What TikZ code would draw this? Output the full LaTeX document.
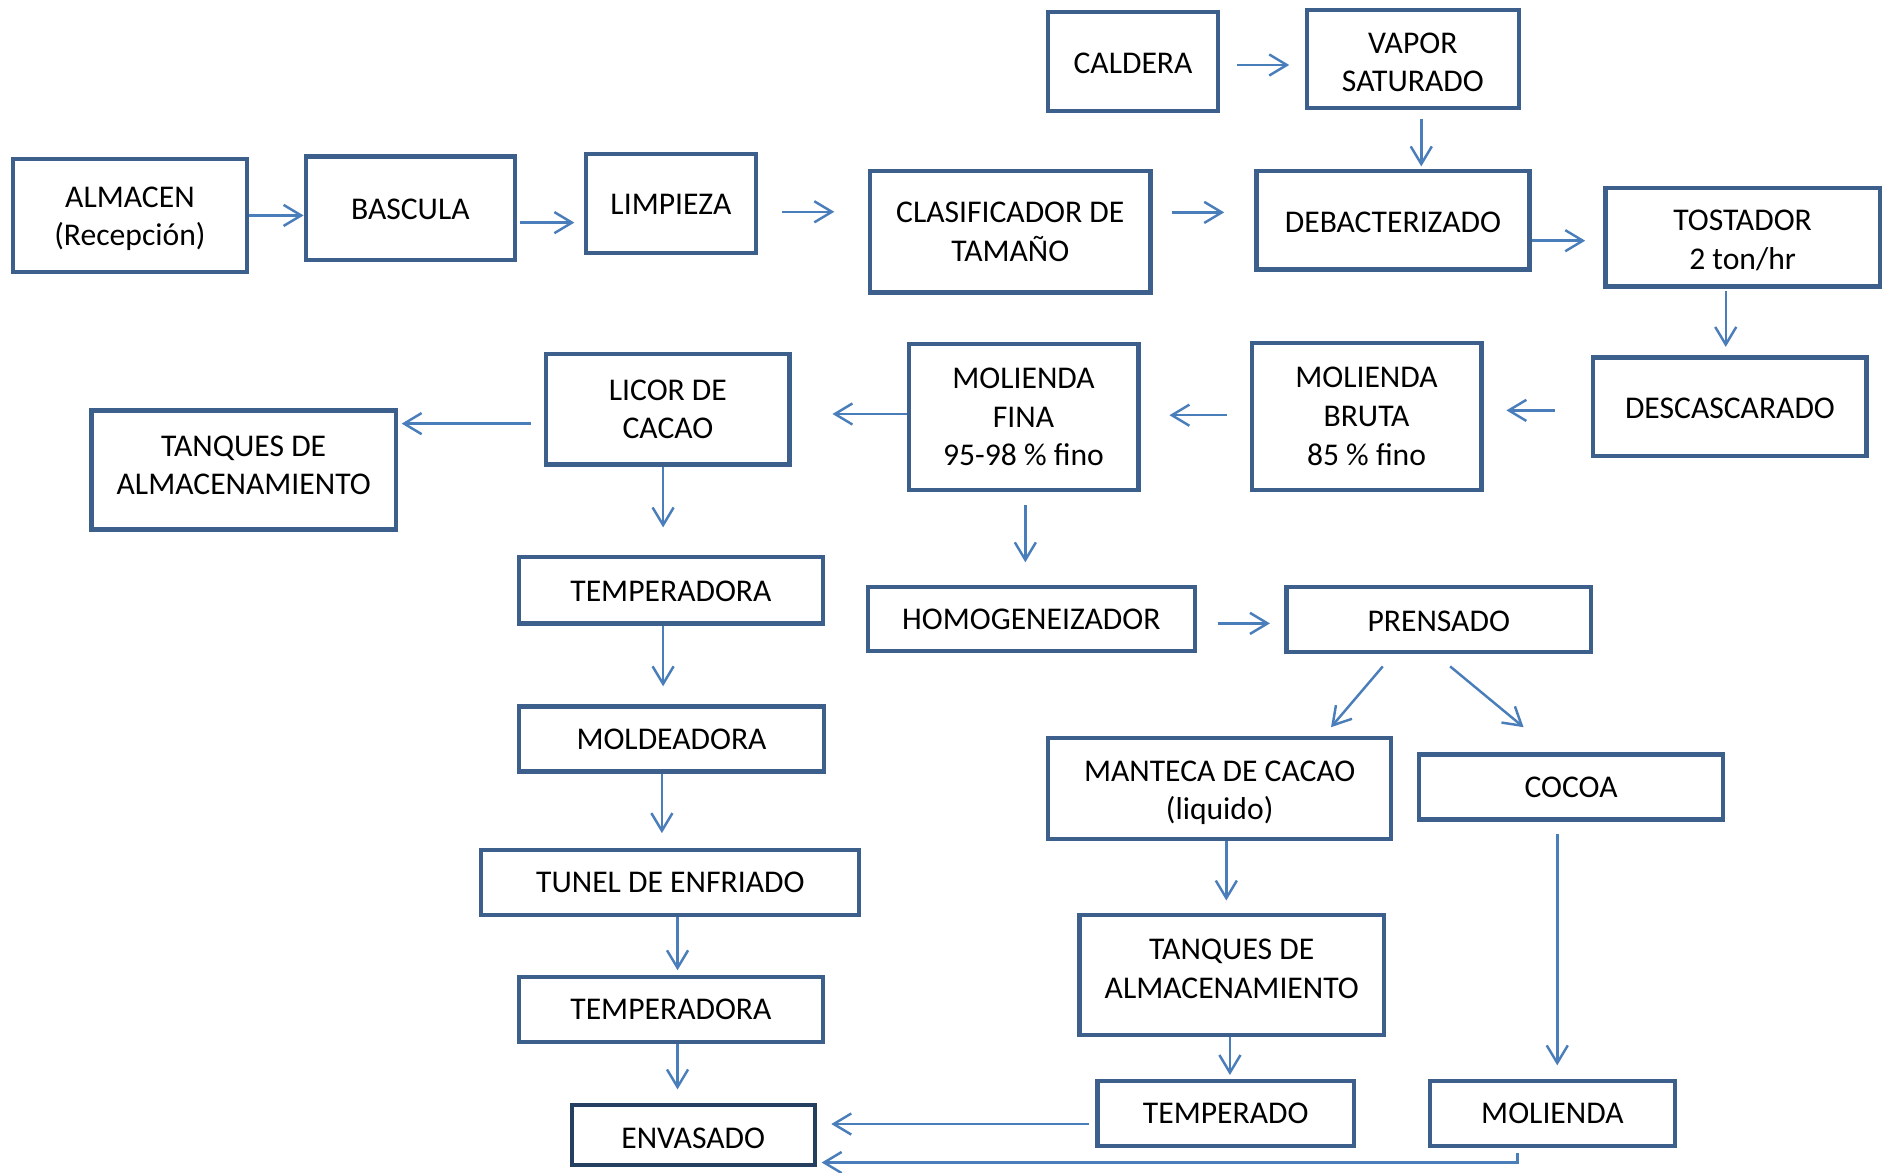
\documentclass[tikz,border=0pt]{standalone}
\usepackage{fontspec}
\setmainfont{Carlito}
\usetikzlibrary{arrows.meta, calc}
\definecolor{boxblue}{HTML}{3C5F8C}
\definecolor{boxdark}{HTML}{243F60}
\definecolor{flowblue}{HTML}{4A7EBB}

\begin{document}
\begin{tikzpicture}[x=0.12034mm, y=-0.12034mm, >={Straight Barb[length=5pt,width=6pt]},
    box/.style={draw=boxblue, line width=1.2pt, fill=white, align=center, inner sep=0pt,
        font=\fontsize{9}{11}\selectfont},
    lower/.style={execute at begin node={\rule{0pt}{#1}}},
    upper/.style={execute at end node={\rule[-#1]{0pt}{0pt}}},
    flow/.style={->, draw=flowblue, line width=0.7pt}]
            \useasboundingbox (0,0) rectangle (1568,974);
            \node[box, lower=7pt, minimum width=16.97mm, minimum height=9.87mm] (cald) at (941.5,51) {CALDERA};
            \node[box, minimum width=21.18mm, minimum height=9.87mm] (vap) at (1174,49) {\rule{0pt}{7.8pt}VAPOR\\SATURADO};
            \node[box, minimum width=23.35mm, minimum height=11.31mm] (alm) at (108,179) {\rule{0pt}{7.8pt}ALMACEN\\(Recepción)};
            \node[box, lower=6.6pt, minimum width=20.94mm, minimum height=10.35mm] (bas) at (341,173) {BASCULA};
            \node[box, lower=6.6pt, minimum width=16.97mm, minimum height=9.87mm] (lim) at (557.5,169) {LIMPIEZA};
            \node[box, minimum width=28.04mm, minimum height=12.15mm] (clas) at (839.5,192.5) {CLASIFICADOR DE\\TAMAÑO};
            \node[box, lower=7pt, minimum width=27.32mm, minimum height=9.87mm] (deb) at (1157.5,183) {DEBACTERIZADO};
            \node[box, minimum width=27.44mm, minimum height=9.87mm] (tost) at (1448,197) {\rule{0pt}{7.8pt}TOSTADOR\\2 ton/hr};
            \node[box, lower=7pt, minimum width=27.32mm, minimum height=9.87mm] (desc) at (1437.5,338) {DESCASCARADO};
            \node[box, minimum width=22.98mm, minimum height=14.68mm] (mbr) at (1135.5,346) {MOLIENDA\\BRUTA\\85 \% fino};
            \node[box, minimum width=22.98mm, minimum height=14.56mm] (mfi) at (850.5,346.5) {MOLIENDA\\FINA\\95-98 \% fino};
            \node[box, minimum width=24.31mm, minimum height=11.07mm] (lic) at (555,340) {LICOR DE\\CACAO};
            \node[box, upper=2.7pt, minimum width=30.45mm, minimum height=11.91mm] (tanqa) at (202.5,390.5) {TANQUES DE\\ALMACENAMIENTO};
            \node[box, lower=6.6pt, minimum width=30.45mm, minimum height=6.62mm] (tempa) at (557.5,490.5) {TEMPERADORA};
            \node[box, minimum width=32.73mm, minimum height=6.38mm] (homo) at (857,514.5) {HOMOGENEIZADOR};
            \node[box, lower=6.6pt, minimum width=30.45mm, minimum height=6.50mm] (pren) at (1195.5,515) {PRENSADO};
            \node[box, minimum width=30.57mm, minimum height=6.50mm] (mold) at (558,614) {MOLDEADORA};
            \node[box, minimum width=34.30mm, minimum height=10.11mm] (mant) at (1013.5,655) {\rule{0pt}{8.5pt}MANTECA DE CACAO\\(liquido)};
            \node[box, minimum width=30.45mm, minimum height=6.50mm] (coc) at (1305.5,654) {COCOA};
            \node[box, minimum width=37.79mm, minimum height=6.50mm] (tun) at (557,733) {TUNEL DE ENFRIADO};
            \node[box, upper=3.6pt, minimum width=30.45mm, minimum height=12.03mm] (tanqb) at (1023.5,810) {TANQUES DE\\ALMACENAMIENTO};
            \node[box, minimum width=30.45mm, minimum height=6.50mm] (tempb) at (557.5,839) {TEMPERADORA};
            \node[box, minimum width=25.63mm, minimum height=6.50mm] (tdo) at (1018.5,925) {TEMPERADO};
            \node[box, minimum width=24.55mm, minimum height=6.50mm] (mol) at (1290,925) {MOLIENDA};
            \node[box, draw=boxdark, minimum width=24.31mm, minimum height=6.02mm] (env) at (576,943) {\raisebox{-1pt}[\height][\depth]{ENVASADO}};
            \draw[flow] (alm.east) -- (alm.east -| bas.west);
            \draw[flow] ($(bas.east)+(2,12)$) -- ($(lim.west |- bas.east)+(-8,12)$);
            \draw[flow] ($(lim.east)+(20,7)$) -- ($(clas.west |- lim.east)+(-28,7)$);
            \draw[flow] ($(clas.east)+(16,-16)$) -- ($(deb.west |- clas.east)+(-25,-16)$);
            \draw[flow] ($(deb.east)+(0,17)$) -- ($(tost.west |- deb.east)+(-15,17)$);
            \draw[flow] ($(cald.east)+(14,3)$) -- ($(vap.west |- cald.east)+(-13,3)$);
            \draw[flow] ($(vap.south)+(7,7)$) -- ($(deb.north -| vap.south)+(7,-2)$);
            \draw[flow] ($(tost.south)+(-14,2)$) -- ($(desc.north -| tost.south)+(-14,-7)$);
            \draw[flow] ($(desc.west)+(-30,3)$) -- ($(mbr.east |- desc.west)+(19,3)$);
            \draw[flow] ($(mbr.west)+(-19,-1)$) -- ($(mfi.east |- mbr.west)+(24,-1)$);
            \draw[flow] ($(mfi.west)+(0,-2.5)$) -- ($(lic.east |- mfi.west)+(34,-2.5)$);
            \draw[flow] ($(lic.west)+(-11,12)$) -- ($(tanqa.east |- lic.west)+(3,12)$);
            \draw[flow] ($(lic.south)+(-4,0)$) -- ($(tempa.north -| lic.south)+(-4,-23)$);
            \draw[flow] ($(mfi.south)+(1.5,11)$) -- ($(homo.north -| mfi.south)+(1.5,-19)$);
            \draw[flow] ($(homo.east)+(17,3.5)$) -- ($(pren.west |- homo.east)+(-12,3.5)$);
            \draw[flow] ($(pren.south)+(-46.5,10)$) -- ($(mant.north)+(92.5,-7)$);
            \draw[flow] ($(pren.south)+(9.5,10)$) -- ($(coc.north)+(-39.5,-21)$);
            \draw[flow] ($(tempa.south)+(-6.5,0)$) -- ($(mold.north -| tempa.south)+(-6.5,-15)$);
            \draw[flow] ($(mold.south)+(-8,0)$) -- ($(tun.north -| mold.south)+(-8,-12)$);
            \draw[flow] ($(tun.south)+(6,0)$) -- ($(tempb.north -| tun.south)+(6,-4)$);
            \draw[flow] ($(tempb.south)+(5.5,0)$) -- ($(env.north -| tempb.south)+(5.5,-11)$);
            \draw[flow] ($(mant.south)+(5.5,0)$) -- ($(tanqb.north -| mant.south)+(5.5,-10)$);
            \draw[flow] ($(tanqb.south)+(-1.5,0)$) -- ($(tdo.north -| tanqb.south)+(-1.5,-3)$);
            \draw[flow] ($(coc.south)+(-11.5,10)$) -- ($(mol.north -| coc.south)+(-11.5,-11)$);
            \draw[flow] ($(tdo.west)+(-5,9)$) -- ($(env.east |- tdo.west)+(12,9)$);
            \draw[flow] ($(mol.south)+(-29,4)$) |- ($(env.east)+(4,23)$);
        \end{tikzpicture}
\end{document}
